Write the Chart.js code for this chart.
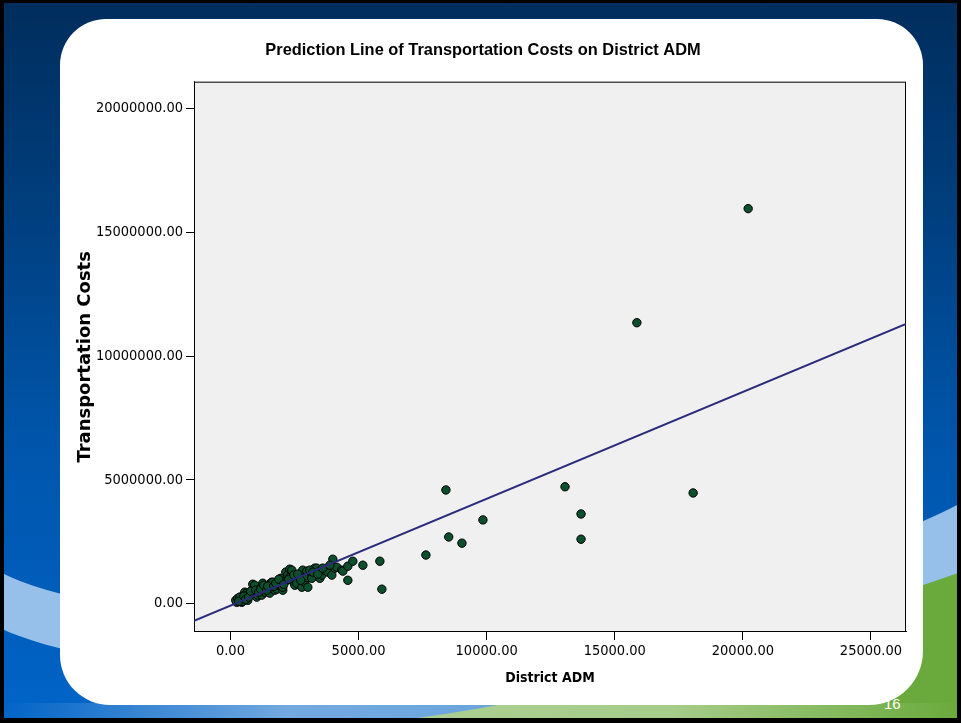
<!DOCTYPE html>
<html>
<head>
<meta charset="utf-8">
<script src="https://cdn.jsdelivr.net/npm/chart.js@4.4.1/dist/chart.umd.min.js"></script>
<style>
  html, body { margin: 0; padding: 0; width: 961px; height: 723px; overflow: hidden; }
  body { position: relative; background: linear-gradient(#002d5c 0%, #003f7f 30%, #0055aa 60%, #0064c8 100%); }
  #waves { position: absolute; left: 0; top: 0; }
  #card {
    position: absolute; left: 60px; top: 19px; width: 863px; height: 686px;
    background: #fff; border-radius: 46px 46px 54px 50px;
  }
  #chart { position: absolute; left: 0; top: 0; }
  #frame {
    position: absolute; left: 0; top: 0; width: 961px; height: 723px; box-sizing: border-box;
    border: solid #000; border-width: 3px 4px 5px 4px; pointer-events: none;
  }
</style>
</head>
<body>
<svg id="waves" width="961" height="723">
  <defs>
    <linearGradient id="strip" x1="0" x2="1" y1="0" y2="0">
      <stop offset="0" stop-color="#ffffff" stop-opacity="0"/>
      <stop offset="0.3" stop-color="#ffffff" stop-opacity="0.45"/>
      <stop offset="0.7" stop-color="#ffffff" stop-opacity="0.4"/>
      <stop offset="1" stop-color="#ffffff" stop-opacity="0"/>
    </linearGradient>
  </defs>
  <path d="M0,572 C150,650 700,640 961,503 L961,572 C700,700 150,700 0,628 Z" fill="#96bfea"/>
  <path d="M961,572 C850,610 650,690 380,723 L961,723 Z" fill="#6aaa3c"/>
  <rect x="0" y="703" width="961" height="16" fill="url(#strip)"/>
  <text x="884" y="709" font-family="Liberation Sans" font-size="15" fill="#ffffff">16</text>
</svg>
<div id="card"></div>
<canvas id="chart" width="961" height="723"></canvas>
<div id="frame"></div>
<script>
const TITLE = "Prediction Line of Transportation Costs on District ADM";
const X_LABEL = "District ADM";
const Y_LABEL = "Transportation Costs";

// District ADM of each district
const admValues = [
  246, 441, 207, 402, 480, 285, 480, 676, 363, 559,
  637, 676, 754, 871, 871, 949, 1027, 1066, 1223, 1223,
  1262, 1340, 1340, 1535, 1574, 1613, 1613, 1652, 1730, 1809,
  1848, 1926, 1965, 2043, 2043, 2160, 2199, 2238, 2316, 2316,
  2395, 2434, 2512, 2590, 2707, 2785, 2824, 2902, 2902, 2980,
  2980, 3020, 3176, 3176, 3293, 3371, 3488, 3566, 3566, 3684,
  3762, 3801, 3957, 3996, 4074, 4152, 4348, 4387, 4582, 4582,
  4777, 5168, 5832, 5910, 7629, 8410, 8520, 9035, 9855, 13059,
  13684, 13684, 15863, 18059, 20207,
  324, 520, 598, 715, 793, 988, 1105, 1184, 1301, 1418,
  1457, 1691, 1770, 1887, 2082, 2277, 2473, 2629, 2746, 3098,
  3215, 3410, 3606, 3879,
];

// Transportation costs of each district
const costValues = [
  50000, 50000, 130000, 260000, 90000, 210000, 210000, 130000, 260000, 460000,
  420000, 340000, 340000, 420000, 780000, 740000, 260000, 340000, 340000, 660000,
  820000, 620000, 460000, 420000, 820000, 860000, 620000, 860000, 540000, 580000,
  740000, 860000, 1020000, 540000, 660000, 1270000, 940000, 1150000, 1390000, 1060000,
  1350000, 900000, 740000, 820000, 1060000, 660000, 1350000, 980000, 860000, 1310000,
  1060000, 660000, 1150000, 1020000, 1430000, 1430000, 1020000, 1150000, 1390000, 1350000,
  1390000, 1270000, 1150000, 1790000, 1430000, 1470000, 1350000, 1310000, 1510000, 940000,
  1710000, 1550000, 1710000, 580000, 1960000, 4590000, 2690000, 2440000, 3380000, 4720000,
  3620000, 2600000, 11350000, 4470000, 15960000,
  90000, 300000, 170000, 260000, 500000, 540000, 460000, 580000, 740000, 540000,
  700000, 700000, 820000, 980000, 780000, 980000, 1150000, 1190000, 940000, 1350000,
  1270000, 1190000, 1430000, 1550000,
];

// prediction line end points, read at the plot edges
const lineX = [-1422, 26367];
const lineY = [-700000, 11300000];

const xTicks = [0, 5000, 10000, 15000, 20000, 25000];
const yTicks = [0, 5000000, 10000000, 15000000, 20000000];
const X_MIN = -1422, X_MAX = 26367;
const Y_MIN = -1150000, Y_MAX = 21090000;

const NARROW = "'Liberation Sans Narrow', 'DejaVu Sans Condensed', 'Roboto Condensed', sans-serif";

const plotFrame = {
  id: "plotFrame",
  beforeDatasetsDraw(chart) {
    const { ctx, chartArea: a } = chart;
    ctx.save();
    ctx.fillStyle = "#f0f0f0";
    ctx.fillRect(a.left, a.top, a.right - a.left, a.bottom - a.top);
    ctx.strokeStyle = "#000";
    ctx.lineWidth = 1;
    ctx.strokeRect(a.left + 0.5, a.top + 0.5, a.right - a.left - 1, a.bottom - a.top - 1);
    ctx.restore();
  },
};

const points = admValues.map((x, i) => ({ x, y: costValues[i] }));
const line = lineX.map((x, i) => ({ x, y: lineY[i] }));

new Chart(document.getElementById("chart").getContext("2d"), {
  type: "scatter",
  data: {
    datasets: [
      {
        label: "Prediction line",
        data: line,
        showLine: true,
        borderColor: "#2b2b7e",
        borderWidth: 2,
        pointRadius: 0,
        order: 0,
      },
      {
        label: "Districts",
        data: points,
        backgroundColor: "#0b4f2c",
        borderColor: "#000",
        borderWidth: 1,
        pointRadius: 4.2,
        order: 1,
      },
    ],
  },
  options: {
    responsive: false,
    animation: false,
    layout: { padding: { left: 60, right: 55, top: 0, bottom: 20 } },
    plugins: {
      legend: { display: false },
      tooltip: { enabled: false },
      title: {
        display: true,
        text: TITLE,
        color: "#000",
        font: { family: "'Liberation Sans', Arial, sans-serif", size: 16.4, weight: "bold" },
        padding: { top: 41, bottom: 21 },
      },
    },
    scales: {
      x: {
        type: "linear",
        min: X_MIN,
        max: X_MAX,
        afterBuildTicks: (s) => { s.ticks = xTicks.map((v) => ({ value: v })); },
        afterFit: (s) => { s.height = 71; },
        grid: { drawOnChartArea: false, drawTicks: true, tickLength: 8, color: "#000" },
        border: { display: true, color: "#000" },
        ticks: {
          color: "#000",
          padding: 3,
          maxRotation: 0,
          font: { family: NARROW, size: 14.5 },
          callback: (v) => v.toFixed(2),
        },
        title: {
          display: true,
          text: X_LABEL,
          color: "#000",
          font: { family: NARROW, size: 14, weight: "bold" },
          padding: { top: 0, bottom: 16 },
        },
      },
      y: {
        type: "linear",
        min: Y_MIN,
        max: Y_MAX,
        afterBuildTicks: (s) => { s.ticks = yTicks.map((v) => ({ value: v })); },
        afterFit: (s) => { s.width = 134; },
        grid: { drawOnChartArea: false, drawTicks: true, tickLength: 8, color: "#000" },
        border: { display: true, color: "#000" },
        ticks: {
          color: "#000",
          padding: 3,
          font: { family: NARROW, size: 14.5 },
          callback: (v) => v.toFixed(2),
        },
        title: {
          display: true,
          text: Y_LABEL,
          color: "#000",
          font: { family: "'DejaVu Sans', Verdana, sans-serif", size: 18, weight: "bold" },
          padding: { top: 15, bottom: 0 },
        },
      },
    },
  },
  plugins: [plotFrame],
});
</script>
</body>
</html>
